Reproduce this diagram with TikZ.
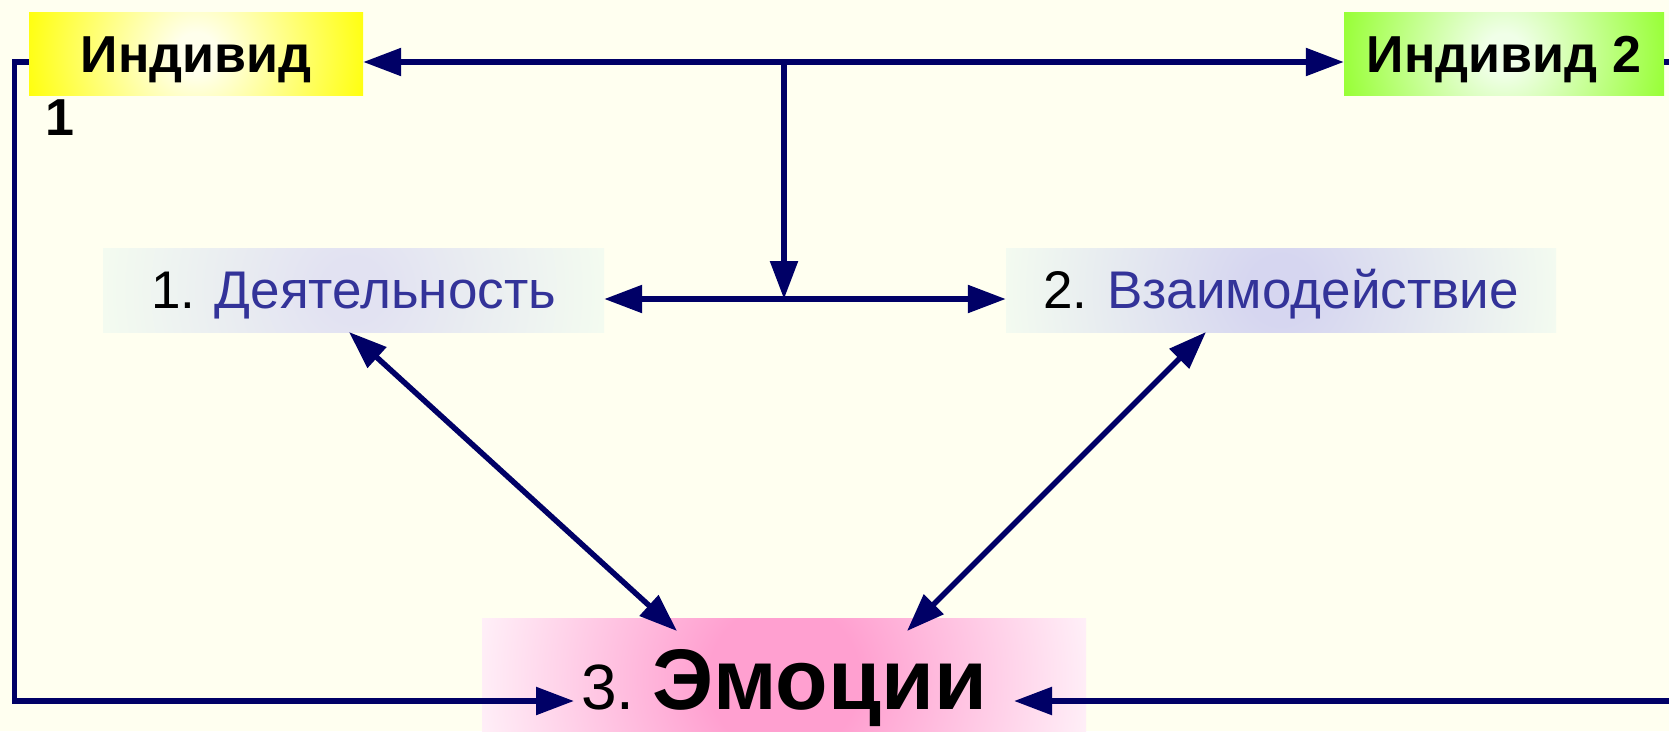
\documentclass[tikz,border=0pt]{standalone}
\usepackage{fontspec}
\setmainfont{Liberation Sans}
\usetikzlibrary{arrows.meta,calc}

\definecolor{bgivory}{RGB}{255,255,240}
\definecolor{linenavy}{RGB}{0,0,102}
\definecolor{txtblue}{RGB}{51,51,153}
\definecolor{limegreen}{RGB}{150,255,50}
\definecolor{limecenter}{RGB}{240,255,232}
\definecolor{yellowcenter}{RGB}{255,255,236}
\definecolor{yellowedge}{RGB}{255,255,10}
\definecolor{palegreen}{RGB}{244,252,240}
\definecolor{lavender}{RGB}{214,214,240}
\definecolor{lavenderlight}{RGB}{226,226,242}
\definecolor{pinkc}{RGB}{255,160,208}
\definecolor{pinkedge}{RGB}{255,242,249}

% radial fills: the circle drawn round the box centre has radius = half its width,
% so the colour runs out towards the left and right sides
\pgfdeclareradialshading{yellowsoft}{\pgfpoint{0bp}{0bp}}{color(0bp)=(yellowcenter); color(3bp)=(yellowcenter); color(25bp)=(yellowedge); color(50bp)=(yellowedge)}
\pgfdeclareradialshading{limesoft}{\pgfpoint{0bp}{0bp}}{color(0bp)=(limecenter); color(3bp)=(limecenter); color(25bp)=(limegreen); color(50bp)=(limegreen)}
\pgfdeclareradialshading{actsoft}{\pgfpoint{0bp}{0bp}}{color(0bp)=(lavenderlight); color(3bp)=(lavenderlight); color(25bp)=(palegreen); color(50bp)=(palegreen)}
\pgfdeclareradialshading{intersoft}{\pgfpoint{0bp}{0bp}}{color(0bp)=(lavender); color(3bp)=(lavender); color(25bp)=(palegreen); color(50bp)=(palegreen)}
\pgfdeclareradialshading{pinksoft}{\pgfpoint{0bp}{0bp}}{color(0bp)=(pinkc); color(6bp)=(pinkc); color(25bp)=(pinkedge); color(50bp)=(pinkedge)}

\tikzset{
  box/.style={inner sep=0pt, draw=none, align=center},
  softfill/.style 2 args={path picture={
      \shade[shading=#1] (path picture bounding box.center) circle (#2);}},
  bigbold/.style={font=\fontsize{52}{60}\selectfont\bfseries, text height=37.2pt, text depth=0pt},
  midtext/.style={font=\fontsize{53}{60}\selectfont, text height=37.9pt, text depth=0pt},
  plaintext/.style={inner sep=0pt},
  conn/.style={draw=linenavy, line width=5.5pt},
  tipend/.style={-{Triangle[length=38pt,width=27pt]}},
  tipboth/.style={{Triangle[length=38pt,width=27pt]}-{Triangle[length=38pt,width=27pt]}}
}

\begin{document}
\begin{tikzpicture}[x=1pt,y=-1pt]
  \useasboundingbox (0,0) rectangle (1669,731);
  \fill[bgivory] (0,0) rectangle (1669,731);
  \clip (0,0) rectangle (1669,731);

  % top row: the two individuals
  \node[box, fill=yellowedge, softfill={yellowsoft}{175pt}, bigbold, minimum width=334pt, minimum height=83pt] (ind1) at (196,53.5) {Индивид};
  \node[plaintext, bigbold] (num1) at (60,116.5) {1};
  \node[box, fill=limegreen, softfill={limesoft}{168pt}, bigbold, minimum width=320pt, minimum height=83pt] (ind2) at (1504,53.5) {Индивид 2};

  % middle row
  \node[box, fill=palegreen, softfill={actsoft}{260pt}, midtext, minimum width=501pt, minimum height=84pt] (act) at (353.5,290)
        {1. \textcolor{txtblue}{Деятельность}};
  \node[box, fill=palegreen, softfill={intersoft}{285pt}, midtext, minimum width=550pt, minimum height=84pt] (inter) at (1281,290)
        {2. \textcolor{txtblue}{Взаимодействие}};

  % bottom: emotions
  \node[box, fill=pinkedge, softfill={pinksoft}{315pt}, minimum width=604pt, minimum height=122pt, text height=61.6pt, text depth=0pt] (emo) at (784,679)
        {{\fontsize{64}{70}\selectfont 3.\ }{\fontsize{86}{90}\selectfont\bfseries Эмоции}};

  % junction points
  \coordinate (hub) at (784,62);
  \coordinate (midlink) at (784,299);
  \coordinate (loopL) at (14.5,62);
  \coordinate (loopLb) at (14.5,701);
  \coordinate (loopR) at (1700,62);
  \coordinate (loopRb) at (1700,701);
  \coordinate (emoL) at (574,701);
  \coordinate (emoR) at (1014,701);
  \coordinate (actfoot) at (349,332);
  \coordinate (interfoot) at (1206,332);
  \coordinate (emoTL) at (677,631);
  \coordinate (emoTR) at (907,631);

  % connectors
  \draw[conn, tipboth] (ind1.east |- hub) -- (ind2.west |- hub);
  \draw[conn, tipend] (hub) -- (midlink);
  \draw[conn, tipboth] (act.east |- midlink) -- (inter.west |- midlink);
  \draw[conn, tipboth] (actfoot) -- (emoTL);
  \draw[conn, tipboth] (interfoot) -- (emoTR);
  \draw[conn, tipend] (ind1.west |- hub) -- (loopL) -- (loopLb) -- (emoL);
  \draw[conn, tipend] (ind2.east |- hub) -- (loopR) -- (loopRb) -- (emoR);
\end{tikzpicture}
\end{document}
